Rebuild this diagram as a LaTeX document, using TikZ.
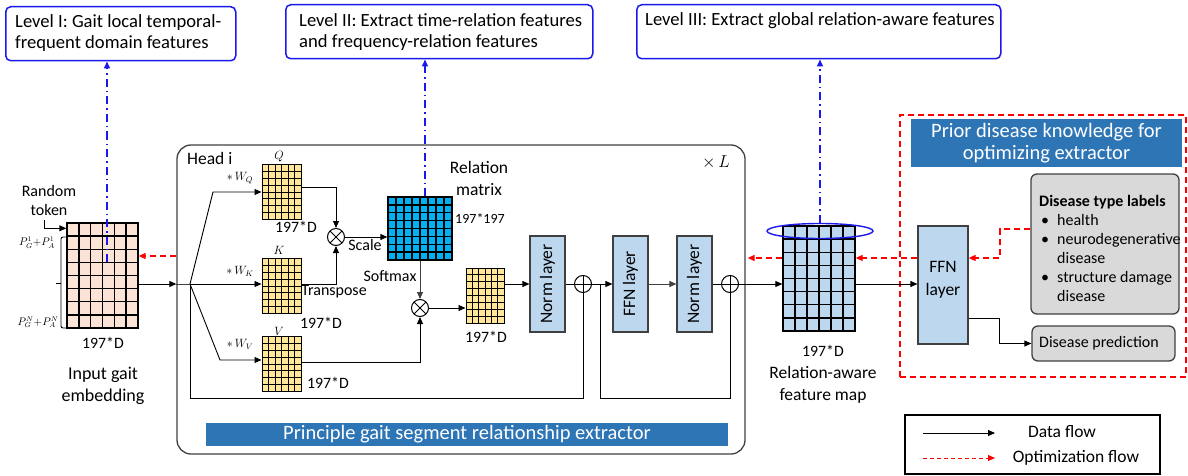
\documentclass[tikz,border=0pt]{standalone}
\usepackage{fontspec}
\setmainfont{Carlito}
\usetikzlibrary{arrows.meta,calc,shapes.geometric}
\definecolor{lvlblue}{RGB}{25,25,235}
\definecolor{bannerblue}{RGB}{46,117,182}
\definecolor{peach}{RGB}{251,227,214}
\definecolor{qyellow}{RGB}{255,230,153}
\definecolor{relblue}{RGB}{0,176,240}
\definecolor{lblue}{RGB}{189,215,238}
\definecolor{boxgray}{RGB}{217,217,217}
\definecolor{edge}{RGB}{64,64,64}
\newcommand\szM{\fontsize{17.5}{20.5}\selectfont}
\newcommand\szS{\fontsize{15.8}{17}\selectfont}
\newcommand\szX{\fontsize{12}{13}\selectfont}
\newcommand\gridlines[7]{%
 \pgfmathtruncatemacro\gcm{#5-1}\pgfmathtruncatemacro\grm{#6-1}%
 \foreach \i in {1,...,\gcm}{\draw[line width=#7] ({#1+(#3-#1)*\i/#5},#2) -- ({#1+(#3-#1)*\i/#5},#4);}%
 \foreach \j in {1,...,\grm}{\draw[line width=#7] (#1,{#2+(#4-#2)*\j/#6}) -- (#3,{#2+(#4-#2)*\j/#6});}%
}
\begin{document}
\begin{tikzpicture}[x=1pt,y=-1pt,font=\szM,
 darr/.style={-{Triangle[length=7pt,width=6pt]},line width=0.9pt},
 conn/.style={line width=0.9pt},
 oarr/.style={-{Triangle[length=7pt,width=6pt]},line width=1.5pt,draw=red,dash pattern=on 6pt off 4pt},
 barr/.style={-{Triangle[length=7pt,width=6pt]},line width=1.5pt,draw=lvlblue,dash pattern=on 8pt off 4pt on 1.5pt off 4pt},
 gnode/.style={draw=black,line width=1pt,inner sep=0pt},
 lvlbox/.style={draw=lvlblue,line width=1.5pt,rounded corners=5pt,inner sep=0pt,anchor=north west},
 lvltext/.style={align=left,inner sep=0pt,anchor=west,font=\fontsize{18.6}{20.5}\selectfont},
 layerbox/.style={draw=edge,line width=1.2pt,fill=lblue,minimum width=35pt,minimum height=96pt,inner sep=0pt},
 gbox/.style={draw=edge,line width=1.3pt,fill=boxgray,rounded corners=6pt,inner sep=0pt},
 bannerbox/.style={fill=bannerblue,text=white,inner sep=0pt,align=center},
 lbl/.style={inner sep=0pt,align=center},
 otimes/.style={circle,draw,line width=1pt,minimum size=17pt,inner sep=0pt,
   path picture={\draw[line width=1pt] (path picture bounding box.north west) -- (path picture bounding box.south east) (path picture bounding box.north east) -- (path picture bounding box.south west);}},
 oplus/.style={circle,draw,line width=1pt,minimum size=17pt,inner sep=0pt,
   path picture={\draw[line width=1pt] (path picture bounding box.north) -- (path picture bounding box.south) (path picture bounding box.east) -- (path picture bounding box.west);}},
]
\useasboundingbox (0,0) rectangle (1188,476);

% ---------- level boxes ----------
\node[lvlbox,minimum width=230pt,minimum height=54pt] (lvl1) at (5,6) {};
\node[lvltext] (lvl1t) at (15,33) {Level I: Gait local temporal-\\frequent domain features};
\node[lvlbox,minimum width=307pt,minimum height=54pt] (lvl2) at (285,4) {};
\node[lvltext] (lvl2t) at (299,32) {Level II: Extract time-relation features\\and frequency-relation features};
\node[lvlbox,minimum width=364pt,minimum height=54pt] (lvl3) at (636,4) {};
\node[lvltext] (lvl3t) at (645,21) {Level III: Extract global relation-aware features};

% ---------- input embedding ----------
\node[gnode,line width=1.4pt,fill=peach,minimum width=71pt,minimum height=105pt] (emb) at (102.5,275.5) {};
\gridlines{67}{223}{138}{328}{6}{8}{1.4pt}
\node[lbl,font=\fontsize{16}{19}\selectfont] (rtok) at (49,201) {Random\\token};
\coordinate (rts) at (44,220);
\draw[darr] (rts) |- ($(emb.north west)+(0,6)$);
\draw[line width=0.9pt,rounded corners=2pt] (66,237) -- (61,237) -- (61,328) -- (66,328);
\draw[line width=0.9pt] (61,283) -- (56,283);
\node[lbl] (p1lab) at (37,243) {\fontsize{10.5}{11}\selectfont$P_G^1{+}P_A^1$};
\node[lbl] (pnlab) at (38,322) {\fontsize{10.5}{11}\selectfont$P_G^N{+}P_A^N$};
\node[lbl,font=\szS] (embd) at (103,343) {197*D};
\node[lbl,font=\fontsize{18}{22}\selectfont] (embt) at (103,386) {Input gait\\embedding};

% ---------- head box ----------
\node[draw=edge,line width=1.3pt,rounded corners=14pt,minimum width=568pt,minimum height=309pt,inner sep=0pt] (head) at (461,299.5) {};
\node[lbl,anchor=west] (headt) at (187,158) {Head i};
\node[lbl] (xl) at (716,162) {$\times\, L$};
\node[bannerbox,minimum width=522pt,minimum height=23pt,font=\fontsize{20.5}{22}\selectfont] (ban1) at (467,434.5) {Principle gait segment relationship extractor};

\coordinate (br) at (190,284);
\coordinate (lb) at (0,398);

% Q K V
\node[gnode,fill=qyellow,minimum width=39pt,minimum height=55pt] (Q) at (281.5,192) {};
\gridlines{262}{164.5}{301}{219.5}{6}{8}{1pt}
\node[gnode,fill=qyellow,minimum width=39pt,minimum height=55pt] (K) at (281.5,286) {};
\gridlines{262}{258.5}{301}{313.5}{6}{8}{1pt}
\node[gnode,fill=qyellow,minimum width=39pt,minimum height=55pt] (V) at (281.5,364) {};
\gridlines{262}{336.5}{301}{391.5}{6}{8}{1pt}
\node[lbl] (Ql) at (279,157) {\szX$Q$};
\node[lbl] (Kl) at (279,250) {\szX$K$};
\node[lbl] (Vl) at (279,331) {\szX$V$};
\node[lbl] (wq) at (240,178) {\szX$*\,W_Q$};
\node[lbl] (wk) at (240,271) {\szX$*\,W_K$};
\node[lbl] (wv) at (240,344) {\szX$*\,W_V$};
\node[lbl,font=\szS] (qd) at (296,227) {197*D};
\node[lbl,font=\szS] (kd) at (321,323) {197*D};
\node[lbl,font=\szS] (vd) at (328,383) {197*D};

\draw[conn,draw=edge] (head.west |- br) -- (br);
\draw[darr] (emb.east |- br) -- (head.west |- br);
\draw[darr] (br) -- (213,192) -- (Q.west);
\draw[darr] (br) -- (K.west |- br);
\draw[darr] (br) -- (220,360) -- (V.west |- 0,360);

% multiply / relation
\node[otimes] (m1) at (336,237) {};
\node[gnode,line width=1.3pt,fill=relblue,minimum width=64pt,minimum height=63pt] (rel) at (420,228.5) {};
\gridlines{388}{197}{452}{260}{8}{8}{1.3pt}
\node[otimes] (m2) at (420,308) {};
\draw[darr] ($(Q.east)+(0,-5)$) -| (m1.north);
\draw[darr] (K.east |- br) -| (m1.south);
\draw[darr] (m1.east) -- (m1 -| rel.west);
\draw[darr,draw=edge] (rel.south) -- (m2.north);
\draw[darr] (V.east |- 0,362) -| (m2.south);
\node[lbl,font=\fontsize{16}{18}\selectfont] (scl) at (365,245) {Scale};
\node[lbl,font=\fontsize{16}{18}\selectfont] (trp) at (334,292) {Transpose};
\node[lbl,font=\fontsize{16}{18}\selectfont] (smx) at (390,276) {Softmax};
\node[lbl,font=\fontsize{17.5}{22}\selectfont] (relt) at (479,178) {Relation\\matrix};
\node[lbl,font=\fontsize{14}{16}\selectfont] (reld) at (480,219) {197*197};

\node[gnode,fill=qyellow,minimum width=38pt,minimum height=55pt] (out) at (485,295.5) {};
\gridlines{466}{268}{504}{323}{6}{8}{1pt}
\node[lbl,font=\szS] (outd) at (486,337) {197*D};
\draw[darr] (m2.east) -- (m2 -| out.west);

% layers
\node[layerbox] (norm1) at (547.5,284) {};
\node[lbl,rotate=90] (norm1t) at (norm1) {Norm layer};
\node[oplus] (p1) at (583,284) {};
\node[layerbox] (ffn1) at (630.5,284) {};
\node[lbl,rotate=90] (ffn1t) at (ffn1) {FFN layer};
\node[layerbox] (norm2) at (694.5,284) {};
\node[lbl,rotate=90] (norm2t) at (norm2) {Norm layer};
\node[oplus] (p2) at (730,284) {};
\coordinate (l2) at (600,284);

\draw[darr] (out.east |- p1) -- (norm1.west |- p1);
\draw[conn] (norm1.east |- p1) -- (p1.west);
\draw[darr] (p1.east) -- (ffn1.west |- p1);
\draw[darr,draw=edge] (ffn1.east |- p1) -- (norm2.west |- p1);
\draw[conn] (norm2.east |- p2) -- (p2.west);
\draw[conn] (br) |- (p1 |- lb) -- (p1.south);
\draw[conn] (l2) |- (p2 |- lb) -- (p2.south);

% ---------- relation-aware map ----------
\node[gnode,line width=1.3pt,fill=lblue,minimum width=72pt,minimum height=105pt] (ra) at (819,278.5) {};
\gridlines{783}{226}{855}{331}{6}{8}{1.3pt}
\node[ellipse,draw=lvlblue,line width=1.4pt,minimum width=106pt,minimum height=15pt,inner sep=0pt] (ell) at (820,231) {};
\node[lbl,font=\szS] (rad) at (823,351) {197*D};
\node[lbl,font=\fontsize{17.5}{22}\selectfont] (rat) at (823,385) {Relation-aware\\feature map};
\draw[darr] (p2.east) -- (ra.west |- p2);

% ---------- knowledge part ----------
\node[draw=red,line width=1.5pt,dash pattern=on 6pt off 4pt,minimum width=286pt,minimum height=262pt,inner sep=0pt] (kbox) at (1043,246) {};
\node[bannerbox,minimum width=271pt,minimum height=48pt,font=\fontsize{20.5}{22}\selectfont] (ban2) at (1046.5,143) {Prior disease knowledge for\\optimizing extractor};
\node[draw=edge,line width=1.2pt,fill=lblue,minimum width=50pt,minimum height=118pt,inner sep=0pt] (ffn2) at (943,285) {};
\node[lbl,font=\fontsize{17.5}{23}\selectfont] (ffn2t) at (943,280) {FFN\\layer};
\node[gbox,minimum width=148pt,minimum height=140pt] (dtl) at (1105,244) {};
\node[lbl,align=left,anchor=west,font=\fontsize{16}{19}\selectfont] (dtlt) at (1039,248) {\textbf{Disease type labels}\\
\hspace*{2pt}\makebox[16pt][l]{\textbullet}health\\
\hspace*{2pt}\makebox[16pt][l]{\textbullet}neurodegenerative\\
\hspace*{18pt}disease\\
\hspace*{2pt}\makebox[16pt][l]{\textbullet}structure damage\\
\hspace*{18pt}disease};
\node[gbox,minimum width=143pt,minimum height=35pt] (dp) at (1103.5,343.5) {};
\node[lbl,anchor=west,font=\fontsize{16}{18}\selectfont] (dpt) at (1039,343) {Disease prediction};

\coordinate (ry) at (0,258);
\draw[darr] (ra.east |- p2) -- (ffn2.west |- p2);
\draw[oarr] (ffn2.west |- ry) -- (ra.east |- ry);
\draw[oarr] (ra.west |- ry) -- ($(head.east |- ry)+(2,0)$);
\draw[oarr] (head.west |- 0,256) -- (emb.east |- 0,256);
\draw[oarr] (dtl.west |- 0,229) -- (1000,229) |- (ffn2.east |- ry);
\draw[darr] (ffn2.east |- 0,318) -- (999,318) |- (dp.west);

% ---------- level arrows ----------
\coordinate (e1) at (107,262);
\draw[barr] (e1) -- (e1 |- lvl1.south);
\coordinate (e2) at (425,196);
\draw[barr] (e2) -- (e2 |- lvl2.south);
\draw[barr] (ell.north) -- (ell.north |- lvl3.south);

% ---------- legend ----------
\node[draw,line width=1.3pt,minimum width=255pt,minimum height=59pt,inner sep=0pt] (leg) at (1032.5,444.5) {};
\coordinate (la1) at (923,433);
\coordinate (la2) at (995,433);
\coordinate (lo1) at (923,458);
\coordinate (lo2) at (995,458);
\draw[darr] (la1) -- (la2);
\draw[-{Triangle[length=7pt,width=6pt]},line width=1pt,draw=red,dash pattern=on 4pt off 3pt] (lo1) -- (lo2);
\node[lbl] (legd) at (1062,432) {Data flow};
\node[lbl] (lego) at (1076,458) {Optimization flow};
\end{tikzpicture}
\end{document}
